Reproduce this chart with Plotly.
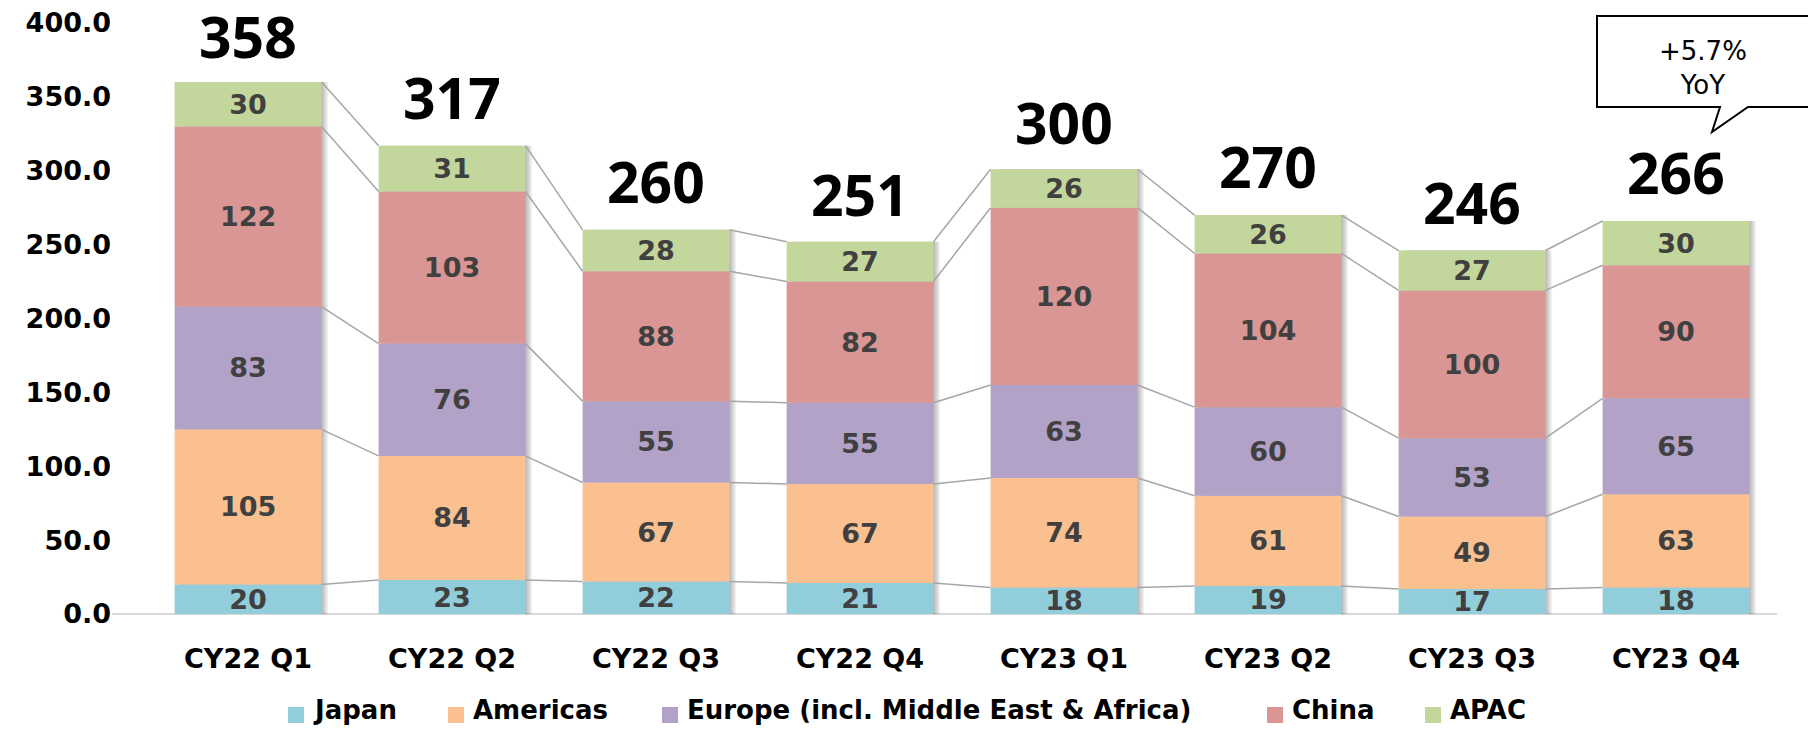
import plotly.graph_objects as go

quarters = ["CY22 Q1", "CY22 Q2", "CY22 Q3", "CY22 Q4",
            "CY23 Q1", "CY23 Q2", "CY23 Q3", "CY23 Q4"]

japan = [20, 23, 22, 21, 18, 19, 17, 18]
americas = [105, 84, 67, 67, 74, 61, 49, 63]
europe = [83, 76, 55, 55, 63, 60, 53, 65]
china = [122, 103, 88, 82, 120, 104, 100, 90]
apac = [30, 31, 28, 27, 26, 26, 27, 30]
totals = [358, 317, 260, 251, 300, 270, 246, 266]

series = [
    ("Japan", japan, "#92CDDC"),
    ("Americas", americas, "#FAC090"),
    ("Europe (incl. Middle East & Africa)", europe, "#B3A2C7"),
    ("China", china, "#D99694"),
    ("APAC", apac, "#C3D69B"),
]

# the page body has an 8px margin, so the figure sits at (8, 8) in the window
OFF = 8
W, H = 1816 - 2 * OFF, 735 - 2 * OFF
L, R, T, B = 104, 31, 15, 113
BAR_W = 0.72
PX_PER_UNIT = 204.0

# legend square left edges (window px), drawn by hand so it sits low like the original
legend_x = [288, 448, 662, 1267, 1425]
LEGEND_Y = 715


def px(x, y):
    # window pixel position -> paper coords
    x, y = x - OFF, y - OFF
    return (x - L) / (W - L - R), (H - B - y) / (H - T - B)


fig = go.Figure()
xs = list(range(len(quarters)))
stack_top = [sum(v) for v in zip(japan, americas, europe, china, apac)]

# soft shadow on the right of each bar
for k in range(1, 5):
    fig.add_trace(go.Bar(
        x=xs, y=stack_top, width=BAR_W,
        offset=-BAR_W / 2 + k * 1.6 / PX_PER_UNIT,
        marker=dict(color="rgba(0,0,0,0.07)", line=dict(width=0)),
        showlegend=False, hoverinfo="skip",
    ))

base = [0] * len(quarters)
for name, vals, color in series:
    fig.add_trace(go.Bar(
        x=xs, y=vals, base=base, name=name, showlegend=False,
        marker=dict(color=color, line=dict(width=0)),
        width=BAR_W,
        text=vals, texttemplate="%{text}",
        textposition="inside", insidetextanchor="middle", textangle=0,
        textfont=dict(family="DejaVu Sans", size=27, color="#404040", weight="bold"),
        hoverinfo="skip",
    ))
    base = [b + v for b, v in zip(base, vals)]

# series lines between the bars
cum = [0] * len(quarters)
for name, vals, color in series:
    cum = [c + v for c, v in zip(cum, vals)]
    lx, ly = [], []
    for i in range(len(quarters) - 1):
        lx += [i + BAR_W / 2, i + 1 - BAR_W / 2, None]
        ly += [cum[i], cum[i + 1], None]
    fig.add_trace(go.Scatter(x=lx, y=ly, mode="lines", showlegend=False,
                             line=dict(color="#a6a6a6", width=1.5),
                             hoverinfo="skip", cliponaxis=False))

# totals above the bars
for i, t in enumerate(totals):
    fig.add_annotation(x=i, y=t, text=str(t), showarrow=False, yshift=49,
                       font=dict(family="Noto Sans", size=57, color="black", weight="bold"))

# legend
for (name, vals, color), lx0 in zip(series, legend_x):
    sx0, sy0 = px(lx0, LEGEND_Y - 8)
    sx1, sy1 = px(lx0 + 16, LEGEND_Y + 8)
    fig.add_shape(type="rect", xref="paper", yref="paper",
                  x0=sx0, y0=sy0, x1=sx1, y1=sy1,
                  fillcolor=color, line=dict(width=0))
    tx, ty = px(lx0 + 23, LEGEND_Y - 5)
    fig.add_annotation(x=tx, y=ty, xref="paper", yref="paper", showarrow=False,
                       text=name, xanchor="left", yanchor="middle",
                       font=dict(family="DejaVu Sans", size=26, color="black", weight="bold"))

# YoY callout
x0, y0 = px(1597, 16)
x1, y1 = px(1810, 107)
tl, _ = px(1720, 107)
tr, _ = px(1748, 107)
tipx, tipy = px(1712, 132)
path = (f"M {x0},{y0} L {x1},{y0} L {x1},{y1} L {tr},{y1} L {tipx},{tipy} "
        f"L {tl},{y1} L {x0},{y1} Z")
fig.add_shape(type="path", path=path, xref="paper", yref="paper",
              line=dict(color="black", width=2), fillcolor="white")
cx, cy = px(1703, 68)
fig.add_annotation(x=cx, y=cy, xref="paper", yref="paper", showarrow=False,
                   text="+5.7%<br>YoY", align="center",
                   xanchor="center", yanchor="middle",
                   font=dict(family="DejaVu Sans", size=26, color="black"))

fig.update_layout(
    width=W, height=H,
    margin=dict(l=L, r=R, t=T, b=B, autoexpand=False),
    barmode="overlay",
    showlegend=False,
    paper_bgcolor="white",
    plot_bgcolor="white",
    uniformtext=dict(minsize=27, mode="show"),
    xaxis=dict(
        range=[-0.667, 7.495],
        tickmode="array", tickvals=xs, ticktext=quarters,
        showgrid=False, showline=False, zeroline=False, ticks="",
        ticklabelstandoff=26, automargin=False,
        tickfont=dict(family="DejaVu Sans", size=27, color="black", weight="bold"),
    ),
    yaxis=dict(
        range=[0, 400], dtick=50, tickformat=".1f",
        showgrid=False, showline=False, ticks="", automargin=False,
        ticklabeloverflow="allow",
        zeroline=True, zerolinecolor="#d9d9d9", zerolinewidth=2,
        tickfont=dict(family="DejaVu Sans", size=27, color="black", weight="bold"),
    ),
)

fig.write_html("out.html")
